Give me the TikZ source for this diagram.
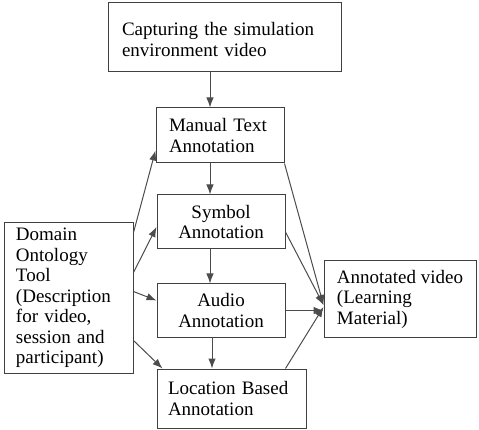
\documentclass[tikz,border=0pt]{standalone}
\usepackage{fontspec}
\setmainfont{Liberation Serif}
\usetikzlibrary{arrows.meta}
\tikzset{
  box/.style={draw=black!75, line width=1pt, inner xsep=0pt, inner ysep=0pt,
    font=\fontsize{19}{20.5}\selectfont},
  arr/.style={draw=black!70, line width=1pt, -{Latex[length=10pt,width=7.5pt]}}
}

\begin{document}
\begin{tikzpicture}[x=1pt,y=-1pt]
      \useasboundingbox (0,0) rectangle (479,430);
      \node[box,minimum width=233,minimum height=69,text width=205,align=left,text depth=17pt] (capture) at (224.5,37.5) {Capturing the simulation\\environment video};
      \node[box,minimum width=128,minimum height=55,text width=102,align=left] (manual) at (220,135.5) {Manual Text\\Annotation};
      \node[box,minimum width=128,minimum height=54,text width=102,align=center] (symbol) at (221,222) {Symbol\\Annotation};
      \node[box,minimum width=128,minimum height=53,text width=102,align=center] (audio) at (221,310.5) {Audio\\Annotation};
      \node[box,minimum width=149,minimum height=59,text width=127,align=left] (location) at (231.5,398.5) {Location Based\\Annotation};
      \node[box,minimum width=152,minimum height=76,align=left] (annotated) at (400,299) {Annotated video\\(Learning\\Material)};
      \node[box,minimum width=129,minimum height=150,text width=105,align=left] (domain) at (68.5,298) {Domain\\Ontology\\Tool\\(Description\\for video,\\session and\\participant)};
      % down the middle column
      \draw[arr] ([xshift=-10]manual.north |- capture.south) -- ([xshift=-10]manual.north);
      \draw[arr] ([xshift=-10]manual.south) -- ([xshift=-10]manual.south |- symbol.north);
      \draw[arr] ([xshift=-11]symbol.south) -- ([xshift=-11]symbol.south |- audio.north);
      \draw[arr] ([xshift=-9]audio.south) -- ([xshift=-9]audio.south |- location.north);
      % from the ontology tool
      \draw[arr] ([yshift=-10]domain.north east) -- ([yshift=13]manual.south west);
      \draw[arr] ([yshift=-50]domain.north east) -- ([yshift=-5]symbol.west);
      \draw[arr] ([yshift=-69]domain.north east) -- ([yshift=10]audio.west);
      \draw[arr] ([yshift=33]domain.south east) -- ([xshift=6]location.north west);
      % into the annotated video
      \draw[arr] (manual.south east) -- ([yshift=-6]annotated.west);
      \draw[arr] ([yshift=-10]symbol.east) -- ([yshift=-6]annotated.west);
      \draw[arr] (audio.east) -- (annotated.west |- audio.east);
      \draw[arr] ([xshift=-21]location.north east) -- ([yshift=-8]annotated.west);
    \end{tikzpicture}
\end{document}
